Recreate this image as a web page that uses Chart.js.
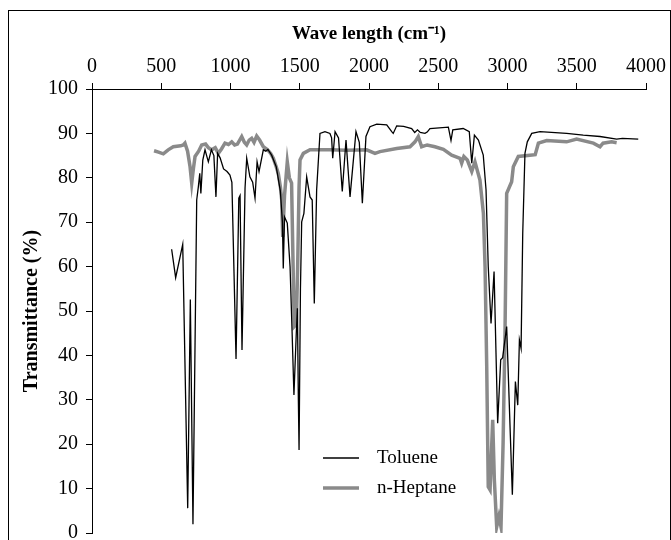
<!DOCTYPE html>
<html>
<head>
<meta charset="utf-8">
<script src="https://cdn.jsdelivr.net/npm/chart.js@4/dist/chart.umd.min.js"></script>
<style>
    body { margin: 0; background: #fff; }
    canvas { display: block; }
</style>
</head>
<body>
<canvas id="irChart" width="671" height="540"></canvas>
<script>
// Toluene spectrum (wave number, transmittance %)
const tolueneWavenumber = [
    575, 604, 655, 691, 710, 729, 756, 768, 778, 786, 800, 816, 840, 862, 880, 895, 907, 925, 950, 975,
    996, 1010, 1040, 1060, 1069, 1083, 1105, 1117, 1140, 1160, 1177, 1192, 1206, 1237, 1255, 1270, 1297, 1330, 1360, 1375,
    1381, 1390, 1410, 1430, 1445, 1458, 1475, 1483, 1490, 1495, 1505, 1514, 1530, 1550, 1574, 1590, 1605, 1622, 1646, 1682,
    1718, 1730, 1738, 1755, 1780, 1807, 1834, 1863, 1906, 1930, 1952, 1978, 2007, 2056, 2128, 2164, 2175, 2200, 2250, 2308,
    2330, 2350, 2370, 2404, 2420, 2440, 2573, 2592, 2605, 2680, 2724, 2742, 2761, 2790, 2825, 2845, 2861, 2881, 2903, 2929,
    2951, 2965, 2994, 3035, 3057, 3074, 3086, 3098, 3110, 3126, 3143, 3175, 3235, 3427, 3547, 3668, 3788, 3830, 3944
];
const tolueneTransmittance = [
    63.9, 57.5, 65.0, 5.6, 52.6, 2.0, 75, 78, 81, 76.5, 84, 86.3, 83.6, 86.3, 85, 75.7, 85.5, 84.5, 82, 81.4,
    80.6, 79, 39.2, 75.4, 76, 41.2, 77.7, 84.4, 80.2, 79, 75.4, 83.6, 81.4, 86.3, 86.0, 86.4, 85.1, 82.5, 77, 70,
    59.6, 71.2, 69.8, 60, 45, 31.1, 45, 50.6, 30, 18.7, 55, 70.1, 72, 80.2, 75.7, 75, 51.7, 77.3, 90.0, 90.4,
    90, 89, 84.4, 90.4, 89, 76.9, 88.5, 75.7, 90.4, 88, 74.3, 89.3, 91.5, 92.1, 91.9, 90.4, 90.0, 91.7, 91.6, 91.1,
    90.2, 90.8, 90.2, 90.0, 90.3, 91.1, 91.4, 88.4, 90.8, 91.1, 90.4, 83.3, 89.6, 88.5, 85.1, 77.3, 60, 47.2, 58.9, 24.7,
    39.0, 39.5, 46.5, 8.6, 34.1, 28.8, 43.5, 41.6, 67.5, 85.5, 88.1, 90, 90.4, 90.0, 89.6, 89.3, 88.7, 88.9, 88.7
];

// n-Heptane spectrum
const heptaneWavenumber = [
    448, 480, 515, 550, 587, 640, 659, 671, 690, 708, 720, 732, 744, 770, 792, 820, 840, 864, 890, 912,
    935, 960, 985, 1009, 1030, 1050, 1081, 1100, 1117, 1135, 1153, 1170, 1189, 1210, 1237, 1268, 1290, 1309, 1330, 1345,
    1360, 1370, 1377, 1390, 1410, 1425, 1441, 1452, 1460, 1475, 1485, 1495, 1502, 1526, 1574, 1718, 1839, 1983, 2043, 2079,
    2200, 2296, 2332, 2356, 2380, 2420, 2476, 2537, 2597, 2657, 2669, 2685, 2710, 2742, 2765, 2801, 2826, 2838, 2850, 2861,
    2874, 2893, 2905, 2922, 2938, 2953, 2968, 2982, 2994, 3030, 3042, 3078, 3162, 3200, 3223, 3283, 3427, 3499, 3620, 3668,
    3690, 3752, 3788
];
const heptaneTransmittance = [
    86.1, 85.8, 85.4, 86.3, 87, 87.2, 87.4, 87.8, 86, 82.5, 78.8, 82, 84.8, 86, 87.4, 87.6, 86.8, 86.3, 86.8, 85.5,
    86.5, 87.8, 87.5, 88.1, 87.4, 87.6, 89.3, 88, 87.4, 88.5, 88.9, 88, 89.4, 88.5, 87.0, 86.3, 85.5, 84.4, 82.5, 81.0,
    78, 75, 66.7, 76, 83.6, 80, 78.8, 60, 46.5, 47, 60, 78, 84.0, 85.5, 86.3, 86.3, 86.2, 86.3, 85.5, 85.9,
    86.6, 87.0, 88.1, 89.3, 87.0, 87.4, 87.0, 86.4, 85.1, 84.4, 83.3, 84.8, 84, 81.4, 83.6, 79.5, 72, 60, 37.5, 10.4,
    9.7, 25.5, 12, 1.4, 3.7, 1.4, 20, 45, 76.5, 79.1, 82.5, 84.8, 85.1, 85.2, 87.8, 88.4, 88.1, 88.7, 87.8, 87.0,
    87.8, 88.1, 87.9
];

const seriesNames = ['Toluene', 'n-Heptane'];

function toPoints(xs, ys) {
    return xs.map((x, i) => ({ x: x, y: ys[i] }));
}

const serif = "'Liberation Serif', 'Times New Roman', serif";

// thin frame around the whole figure
const framePlugin = {
    id: 'frame',
    afterDraw(chart) {
        const ctx = chart.ctx;
        ctx.save();
        ctx.strokeStyle = '#000';
        ctx.lineWidth = 1;
        ctx.strokeRect(8.5, 10.5, 662, 600);
        ctx.restore();
    }
};

// legend sitting inside the plot, lower middle
const innerLegend = {
    id: 'innerLegend',
    afterDatasetsDraw(chart) {
        const ctx = chart.ctx;
        const rows = [458, 488];
        ctx.save();
        ctx.font = '19px ' + serif;
        ctx.fillStyle = '#000';
        ctx.textBaseline = 'middle';
        chart.data.datasets.forEach((ds, i) => {
            const y = rows[i];
            ctx.strokeStyle = ds.borderColor;
            ctx.lineWidth = ds.borderWidth;
            ctx.beginPath();
            ctx.moveTo(323, y);
            ctx.lineTo(359, y);
            ctx.stroke();
            ctx.fillText(ds.label, 377, y);
        });
        ctx.restore();
    }
};

new Chart(document.getElementById('irChart'), {
    type: 'line',
    data: {
        datasets: [
            {
                label: seriesNames[0],
                data: toPoints(tolueneWavenumber, tolueneTransmittance),
                borderColor: '#000000',
                borderWidth: 1.3,
                pointRadius: 0,
                tension: 0,
                order: 1
            },
            {
                label: seriesNames[1],
                data: toPoints(heptaneWavenumber, heptaneTransmittance),
                borderColor: '#8a8a8a',
                borderWidth: 3.5,
                pointRadius: 0,
                tension: 0,
                order: 2
            }
        ]
    },
    options: {
        responsive: false,
        animation: false,
        layout: { padding: { top: 20, left: 10, right: 25, bottom: 7 } },
        plugins: {
            legend: { display: false },
            tooltip: { enabled: false }
        },
        scales: {
            x: {
                type: 'linear',
                position: 'top',
                min: 0,
                max: 4000,
                ticks: {
                    stepSize: 500,
                    color: '#000',
                    padding: 4,
                    font: { family: serif, size: 20 },
                    callback: function (value) { return String(value); }
                },
                grid: { drawOnChartArea: false, drawTicks: true, tickLength: 6, color: '#000' },
                border: { display: true, color: '#000', width: 1 },
                title: {
                    display: true,
                    text: 'Wave length (cm\u207B\u00B9)',
                    color: '#000',
                    padding: { top: 3, bottom: 0 },
                    font: { family: serif, size: 19, weight: 'bold' }
                },
                afterFit(s) {
                    s.height = 69;
                    s.paddingLeft = 0;
                    s.paddingRight = 0;
                }
            },
            y: {
                min: 0,
                max: 100,
                ticks: {
                    stepSize: 10,
                    color: '#000',
                    padding: 8,
                    font: { family: serif, size: 20 },
                    callback: function (value) { return String(value); }
                },
                grid: { drawOnChartArea: false, drawTicks: true, tickLength: 6, color: '#000' },
                border: { display: true, color: '#000', width: 1 },
                title: {
                    display: true,
                    text: 'Transmittance (%)',
                    color: '#000',
                    padding: { top: 10, bottom: 0 },
                    font: { family: serif, size: 20, weight: 'bold' }
                },
                afterFit(s) {
                    s.width = 82;
                    s.paddingTop = 0;
                    s.paddingBottom = 0;
                }
            }
        }
    },
    plugins: [framePlugin, innerLegend]
});
</script>
</body>
</html>
